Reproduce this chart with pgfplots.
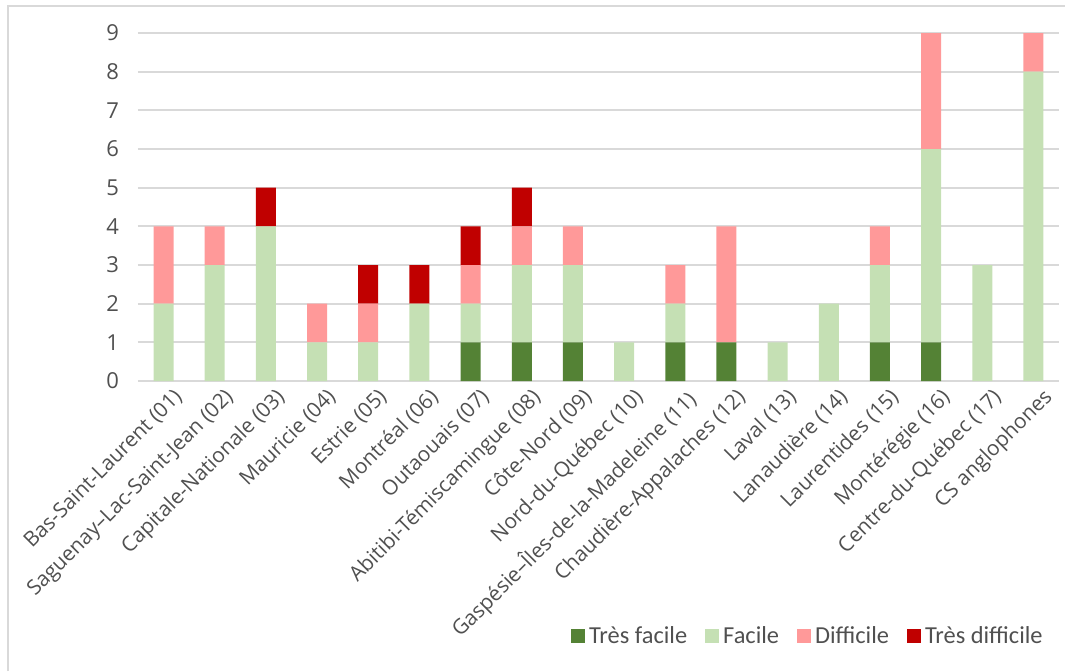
\documentclass[border=0pt]{standalone}
\usepackage{fontspec}
\setmainfont{Open Sans}
\newfontfamily\legfont{Carlito}
\usepackage{pgfplots}
\pgfplotsset{compat=1.18}
\definecolor{txt}{HTML}{505050}
\definecolor{gridc}{HTML}{D9D9D9}
\definecolor{tf}{HTML}{548235}
\definecolor{fa}{HTML}{C5E0B4}
\definecolor{di}{HTML}{FF9999}
\definecolor{td}{HTML}{C00000}
\begin{document}
\begin{tikzpicture}
\useasboundingbox (-69pt,-145pt) rectangle (463.5pt,190.5pt);
\draw[gridc, line width=1pt] (-65pt,-145pt) -- (-65pt,187.5pt) -- (463.5pt,187.5pt);
\begin{axis}[
  at={(0,0)}, anchor=south west,
  scale only axis,
  width=460.5pt, height=174pt,
  ybar stacked, bar width=10pt,
  xmin=-0.5, xmax=17.5,
  ymin=0, ymax=9,
  ytick={0,1,...,9},
  xtick={0,1,...,17},
  xticklabels={Bas-Saint-Laurent (01),Saguenay–Lac-Saint-Jean (02),Capitale-Nationale (03),Mauricie (04),Estrie (05),Montréal (06),Outaouais (07),Abitibi-Témiscamingue (08),Côte-Nord (09),Nord-du-Québec (10),Gaspésie–Îles-de-la-Madeleine (11),Chaudière-Appalaches (12),Laval (13),Lanaudière (14),Laurentides (15),Montérégie (16),Centre-du-Québec (17),CS anglophones},
  xticklabel style={rotate=45, anchor=north east, font=\fontsize{10.4}{12}\selectfont, text=txt, inner sep=1pt, yshift=-4pt, xshift=2pt},
  yticklabel style={font=\fontsize{11}{13}\selectfont, text=txt, xshift=-6pt},
  /pgf/number format/assume math mode=true,
  major tick length=0pt,
  axis line style={draw=none},
  ymajorgrids=true,
  grid style={gridc, line width=1pt},
  legend style={draw=none, fill=none, at={(0.9935,-0.733)}, anchor=east,
    legend columns=-1, font=\legfont\fontsize{12.2}{14}\selectfont, text=txt,
    /tikz/every even column/.append style={column sep=7pt}},
  legend image code/.code={\fill[#1] (0pt,-3.5pt) rectangle (7pt,3.5pt);},
  legend cell align=left,
]
\addplot[fill=tf, draw=none] coordinates {(0,0)(1,0)(2,0)(3,0)(4,0)(5,0)(6,1)(7,1)(8,1)(9,0)(10,1)(11,1)(12,0)(13,0)(14,1)(15,1)(16,0)(17,0)};
\addplot[fill=fa, draw=none] coordinates {(0,2)(1,3)(2,4)(3,1)(4,1)(5,2)(6,1)(7,2)(8,2)(9,1)(10,1)(11,0)(12,1)(13,2)(14,2)(15,5)(16,3)(17,8)};
\addplot[fill=di, draw=none] coordinates {(0,2)(1,1)(2,0)(3,1)(4,1)(5,0)(6,1)(7,1)(8,1)(9,0)(10,1)(11,3)(12,0)(13,0)(14,1)(15,3)(16,0)(17,1)};
\addplot[fill=td, draw=none] coordinates {(0,0)(1,0)(2,1)(3,0)(4,1)(5,1)(6,1)(7,1)(8,0)(9,0)(10,0)(11,0)(12,0)(13,0)(14,0)(15,0)(16,0)(17,0)};
\legend{Très facile,Facile,Difficile,Très difficile}
\end{axis}
\end{tikzpicture}
\end{document}
